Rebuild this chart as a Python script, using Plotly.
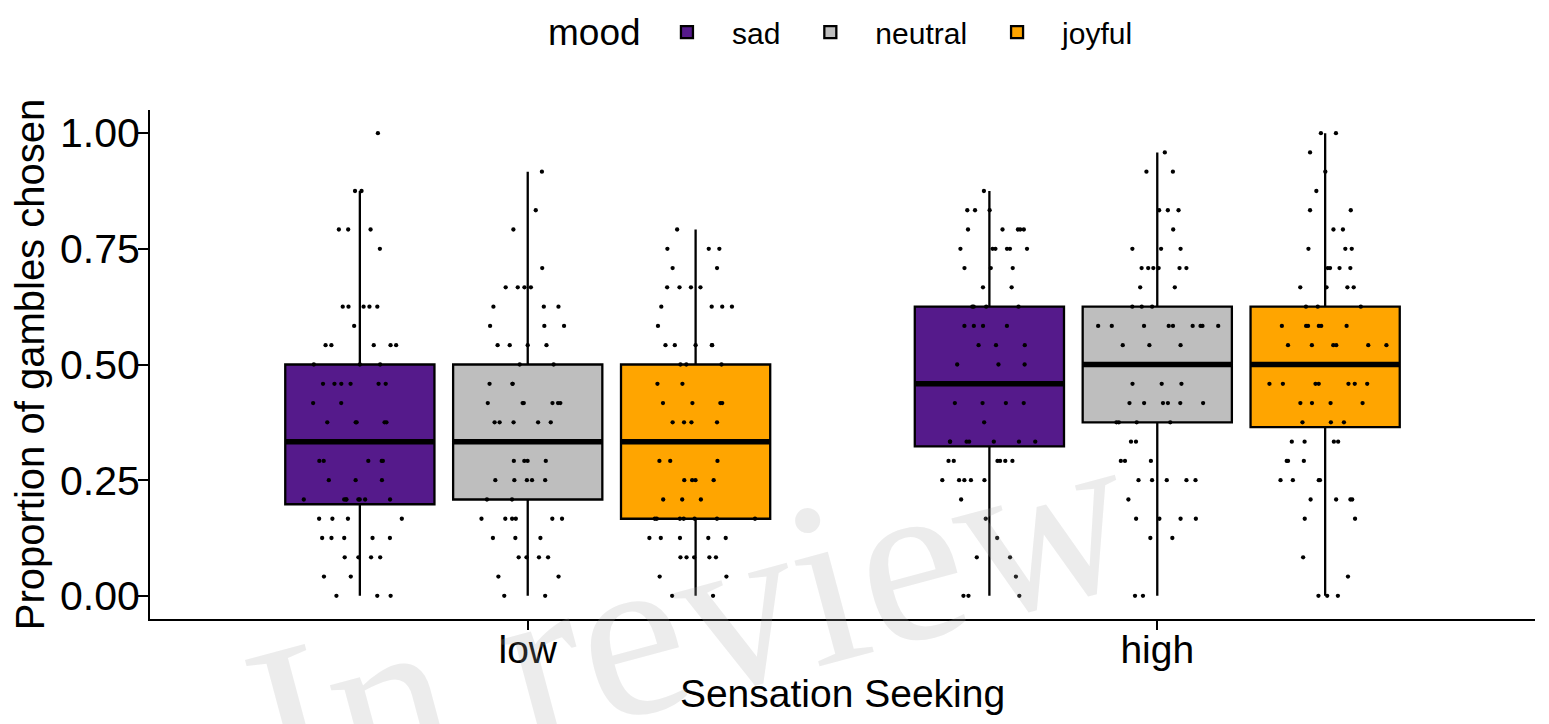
import numpy as np
import plotly.graph_objects as go

# ---------------- data ----------------
levels = ["low", "high"]
level_pos = [1, 2]
moods = ["sad", "neutral", "joyful"]
mood_colors = {"sad": "#551A8B", "neutral": "#BEBEBE", "joyful": "#FFA500"}

# box statistics per mood, [low, high]
q1 = {"sad": [0.198, 0.323], "neutral": [0.2083, 0.375], "joyful": [0.1667, 0.3646]}
median = {"sad": [0.3333, 0.4583], "neutral": [0.3333, 0.5], "joyful": [0.3333, 0.5]}
q3 = {"sad": [0.5, 0.625], "neutral": [0.5, 0.625], "joyful": [0.5, 0.625]}
lower = {"sad": [0.0, 0.0], "neutral": [0.0, 0.0], "joyful": [0.0, 0.0]}
upper = {"sad": [0.875, 0.875], "neutral": [0.9167, 0.9583], "joyful": [0.7917, 1.0]}

# observed proportions (k/24) and how many participants at each
prop_values = [0, 0.0417, 0.0833, 0.125, 0.1667, 0.2083, 0.25, 0.2917, 0.3333,
               0.375, 0.4167, 0.4583, 0.5, 0.5417, 0.5833, 0.625, 0.6667, 0.7083,
               0.75, 0.7917, 0.8333, 0.875, 0.9167, 0.9583, 1.0]
counts_low_sad = [3, 2, 4, 5, 4, 8, 3, 5, 3, 5, 2, 6, 3, 5, 1, 5, 0, 0, 1, 3, 0, 2, 0, 0, 1]
counts_low_neutral = [2, 2, 4, 3, 6, 2, 5, 4, 3, 5, 6, 3, 2, 4, 3, 3, 4, 1, 0, 1, 1, 0, 1, 0, 0]
counts_low_joyful = [2, 2, 5, 5, 7, 3, 4, 3, 3, 4, 4, 2, 3, 5, 1, 4, 4, 2, 3, 1, 0, 0, 0, 0, 0]
counts_high_sad = [3, 1, 2, 1, 1, 1, 5, 6, 7, 1, 4, 3, 3, 3, 4, 4, 2, 3, 6, 5, 3, 1, 0, 0, 0]
counts_high_neutral = [2, 0, 0, 2, 4, 1, 5, 3, 2, 4, 6, 3, 3, 3, 9, 3, 2, 6, 3, 1, 3, 0, 2, 1, 0]
counts_high_joyful = [3, 1, 1, 0, 2, 4, 4, 3, 4, 3, 4, 7, 3, 6, 6, 3, 4, 4, 3, 2, 2, 1, 1, 1, 2]

counts = {
    "sad": [counts_low_sad, counts_high_sad],
    "neutral": [counts_low_neutral, counts_high_neutral],
    "joyful": [counts_low_joyful, counts_high_joyful],
}

y_ticks = [0, 0.25, 0.5, 0.75, 1.0]
y_ticktext = ["0.00", "0.25", "0.50", "0.75", "1.00"]

# ---------------- layout constants ----------------
dodge = 0.8 / 3
offsets = {"sad": -dodge, "neutral": 0.0, "joyful": dodge}
box_w = 0.237
FONT = "Liberation Sans, Arial, sans-serif"

fig = go.Figure()

# boxes
for m in moods:
    xs = [p + offsets[m] for p in level_pos]
    fig.add_trace(go.Box(
        name=m, x=xs, q1=q1[m], median=median[m], q3=q3[m],
        lowerfence=lower[m], upperfence=upper[m],
        width=box_w, fillcolor=mood_colors[m],
        line=dict(color="black", width=2.3), whiskerwidth=0,
        boxpoints=False, legendgroup=m, showlegend=True, hoverinfo="skip",
    ))

# thick median bars
for m in moods:
    xs = [p + offsets[m] for p in level_pos]
    fig.add_trace(go.Box(
        x=xs, q1=median[m], median=median[m], q3=median[m],
        lowerfence=median[m], upperfence=median[m],
        width=box_w, fillcolor="black", line=dict(color="black", width=5.5),
        whiskerwidth=0, boxpoints=False, showlegend=False, legendgroup=m,
        hoverinfo="skip",
    ))

# jittered individual points
for m in moods:
    xs, ys = [], []
    for li, p in enumerate(level_pos):
        vals = np.repeat(prop_values, counts[m][li])
        ys.extend(vals.tolist())
        xs.extend([p + offsets[m]] * len(vals))
    fig.add_trace(go.Box(
        x=xs, y=ys, boxpoints="all", jitter=0.9, pointpos=0,
        width=box_w, fillcolor="rgba(0,0,0,0)",
        line=dict(color="rgba(0,0,0,0)", width=0), whiskerwidth=0,
        marker=dict(color="black", size=4.3),
        showlegend=False, legendgroup=m, hoveron="points",
    ))

# legend title (placed as text so it shares the legend's row)
fig.add_annotation(
    text="mood", xref="paper", yref="paper", x=0.3206, y=1.153,
    xanchor="center", yanchor="middle", showarrow=False,
    font=dict(family=FONT, size=37, color="black"),
)

# watermark
fig.add_annotation(
    text="In review", xref="paper", yref="paper", x=0.39, y=-0.48,
    showarrow=False, textangle=-15,
    font=dict(family="Liberation Serif, Times New Roman, serif", size=236,
              color="rgba(170,170,170,0.22)"),
)

# the page body adds an 8 px offset, compensated in the margins
fig.update_layout(
    width=1549, height=724,
    margin=dict(l=142, r=22, t=102, b=113, autoexpand=False),
    paper_bgcolor="white", plot_bgcolor="white",
    boxmode="overlay",
    font=dict(family=FONT, color="black"),
    legend=dict(
        orientation="h", x=0.3552, xanchor="left", y=1.153, yanchor="middle",
        font=dict(size=30, family=FONT), itemwidth=80,
    ),
    xaxis=dict(
        range=[0.4, 2.6], tickvals=level_pos, ticktext=levels,
        showline=True, linecolor="black", linewidth=2,
        ticks="outside", ticklen=9, tickwidth=2, tickcolor="black",
        tickfont=dict(size=39, family=FONT, color="black"),
        ticklabelstandoff=-14,
        showgrid=False, zeroline=False, automargin=False,
        title=dict(text="Sensation Seeking", font=dict(size=39, family=FONT), standoff=10),
    ),
    yaxis=dict(
        range=[-0.05, 1.05], tickvals=y_ticks, ticktext=y_ticktext,
        showline=True, linecolor="black", linewidth=2,
        ticks="outside", ticklen=10, tickwidth=2, tickcolor="black",
        tickfont=dict(size=41, family=FONT, color="black"),
        ticklabelstandoff=-10,
        showgrid=False, zeroline=False, automargin=False,
        title=dict(text="Proportion of gambles chosen", font=dict(size=40, family=FONT), standoff=4),
    ),
)

fig.write_html("out.html")
